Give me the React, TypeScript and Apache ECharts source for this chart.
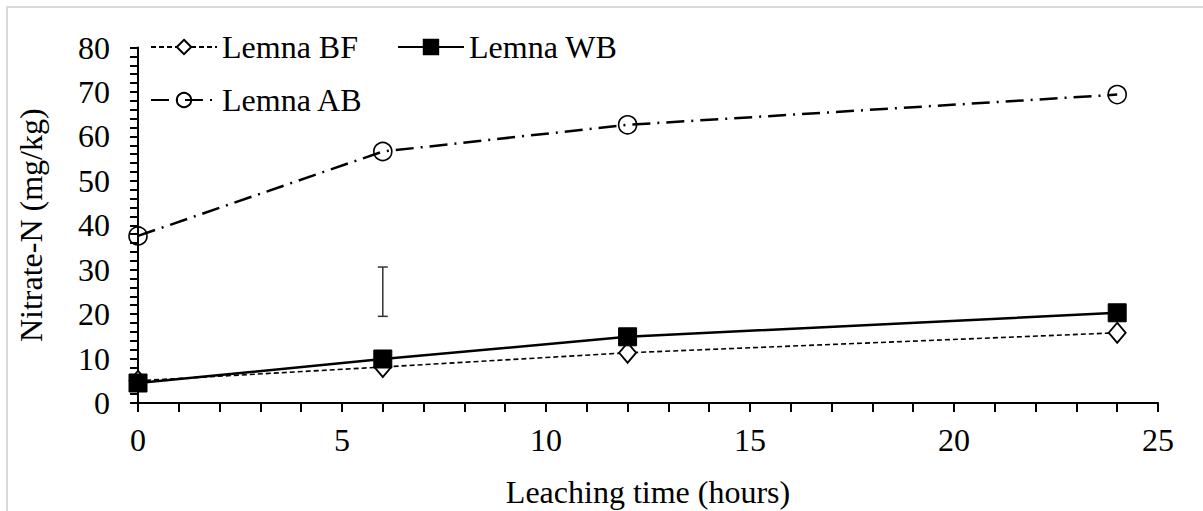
import React, { useEffect, useRef } from "react";
import * as echarts from "echarts";

const hours = [0, 6, 12, 24];
const lemnaBF = [5.0, 8.1, 11.3, 15.8];
const lemnaWB = [4.5, 9.9, 14.9, 20.3];
const lemnaAB = [37.6, 56.6, 62.6, 69.4];
// error bar: [x, low, high]
const errorBar = [[6, 19.5, 30.6]];

const FONT = "Liberation Serif";
const FS = 32;

export default function App() {
  const ref = useRef<HTMLDivElement>(null);
  useEffect(() => {
    if (!ref.current) return;
    const chart = echarts.init(ref.current, undefined, { renderer: "svg" });
    const pair = (ys: number[]) => hours.map((h, i) => [h, ys[i]]);
    const option: any = {
      animation: false,
      backgroundColor: "#ffffff",
      textStyle: { fontFamily: FONT, color: "#000" },
      graphic: [
        {
          type: "rect",
          shape: { x: 7, y: 7, width: 1210, height: 520 },
          style: { fill: "none", stroke: "#d9d9d9", lineWidth: 2 },
          silent: true,
        },
      ],
      grid: { left: 138, right: 45, top: 47.5, bottom: 108, outerBoundsMode: "none", containLabel: false },
      legend: [
        {
          data: ["Lemna BF", "Lemna WB"],
          left: 150,
          top: 31,
          itemWidth: 66,
          itemHeight: 18,
          itemGap: 39,
          padding: 0,
          textStyle: { fontFamily: FONT, fontSize: FS, color: "#000" },
        },
        {
          data: ["Lemna AB"],
          left: 150,
          top: 84,
          itemWidth: 66,
          itemHeight: 18,
          padding: 0,
          textStyle: { fontFamily: FONT, fontSize: FS, color: "#000" },
        },
      ],
      xAxis: {
        type: "value",
        min: 0,
        max: 25,
        interval: 5,
        name: "Leaching time (hours)",
        nameLocation: "middle",
        nameGap: 73,
        nameTextStyle: { fontFamily: FONT, fontSize: FS, color: "#000" },
        axisLine: { show: true, onZero: false, lineStyle: { color: "#000", width: 2 } },
        axisTick: { show: true, length: 9, lineStyle: { color: "#000", width: 2 } },
        minorTick: { show: true, splitNumber: 5, length: 9, lineStyle: { color: "#000", width: 2 } },
        splitLine: { show: false },
        axisLabel: { fontFamily: FONT, fontSize: FS, color: "#000", margin: 21 },
      },
      yAxis: {
        type: "value",
        min: 0,
        max: 80,
        interval: 10,
        name: "Nitrate-N (mg/kg)",
        nameLocation: "middle",
        nameGap: 91,
        nameTextStyle: { fontFamily: FONT, fontSize: FS, color: "#000" },
        axisLine: { show: true, onZero: false, lineStyle: { color: "#000", width: 2 } },
        axisTick: { show: true, length: 8, lineStyle: { color: "#000", width: 2 } },
        minorTick: { show: true, splitNumber: 5, length: 8, lineStyle: { color: "#000", width: 2 } },
        splitLine: { show: false },
        axisLabel: { fontFamily: FONT, fontSize: FS, color: "#000", margin: 28 },
      },
      series: [
        {
          name: "Lemna BF",
          type: "line",
          data: pair(lemnaBF),
          symbol: "diamond",
          symbolSize: [17, 20],
          itemStyle: { color: "#fff", borderColor: "#000", borderWidth: 1.8 },
          lineStyle: { color: "#000", width: 1.6, type: [5, 3] },
          z: 3,
        },
        {
          name: "Lemna WB",
          type: "line",
          data: pair(lemnaWB),
          symbol: "rect",
          symbolSize: 18,
          itemStyle: { color: "#000", borderColor: "#000", borderWidth: 1 },
          lineStyle: { color: "#000", width: 2.5, type: "solid" },
          z: 4,
        },
        {
          name: "Lemna AB",
          type: "line",
          data: pair(lemnaAB),
          symbol: "circle",
          symbolSize: 18,
          itemStyle: { color: "transparent", borderColor: "#000", borderWidth: 1.6 },
          lineStyle: { color: "#000", width: 2.5, type: [18, 7, 2, 7] },
          z: 3,
        },
        {
          name: "error",
          type: "custom",
          data: errorBar,
          renderItem: (params: any, api: any) => {
            const x = api.value(0);
            const lo = api.coord([x, api.value(1)]);
            const hi = api.coord([x, api.value(2)]);
            const w = 5;
            const style = { stroke: "#333", lineWidth: 1.5 };
            return {
              type: "group",
              children: [
                { type: "line", shape: { x1: lo[0], y1: lo[1], x2: hi[0], y2: hi[1] }, style },
                { type: "line", shape: { x1: lo[0] - w, y1: lo[1], x2: lo[0] + w, y2: lo[1] }, style },
                { type: "line", shape: { x1: hi[0] - w, y1: hi[1], x2: hi[0] + w, y2: hi[1] }, style },
              ],
            };
          },
          z: 2,
        },
      ],
    };
    chart.setOption(option);
    return () => chart.dispose();
  }, []);
  return (
    <div
      ref={ref}
      style={{ position: "fixed", left: 0, top: 0, width: 1203, height: 511 }}
    />
  );
}
